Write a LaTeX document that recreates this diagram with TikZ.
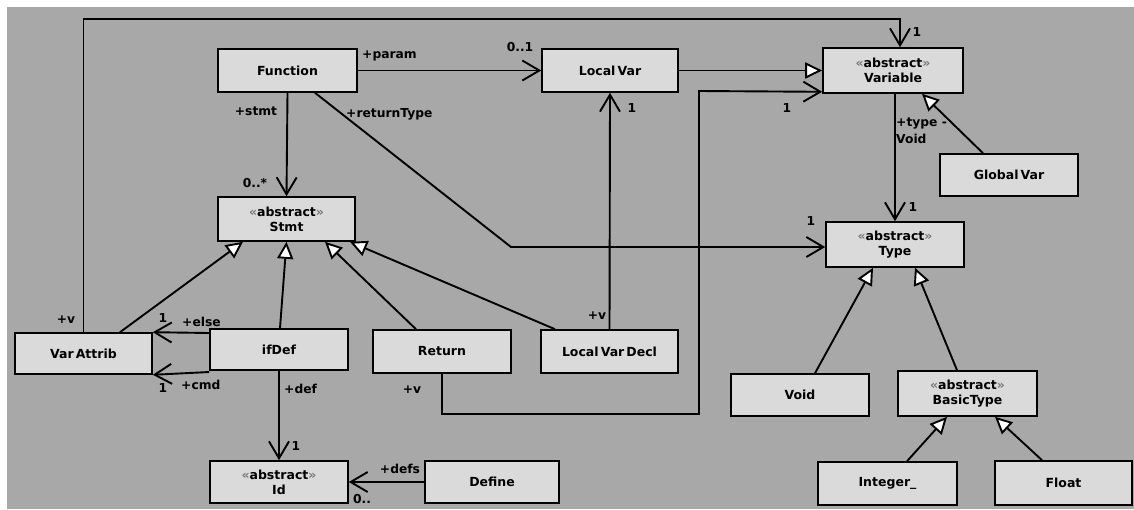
\documentclass[tikz,border=0pt]{standalone}
\usepackage{fontspec}
\setmainfont{DejaVu Sans}
\usetikzlibrary{arrows.meta,calc}
\definecolor{bgc}{RGB}{168,168,168}
\definecolor{boxc}{RGB}{218,218,218}
\definecolor{guil}{RGB}{120,120,120}
\newcommand{\stereo}{{\color{guil}«}abstract{\color{guil}»}}
\begin{document}
\begin{tikzpicture}[x=1pt,y=-1pt,
  cls/.style={draw=black, line width=1.6pt, fill=boxc, inner sep=0pt, align=center,
    font=\bfseries\fontsize{12.5}{15}\selectfont},
  lbl/.style={font=\bfseries\fontsize{12.3}{13}\selectfont, inner sep=0pt},
  assoc/.style={line width=1.9pt, -{Straight Barb[length=17pt,width=20pt]}},
  gen/.style={line width=1.9pt, -{Triangle[length=17pt,width=16pt,fill=white]}},
  plainln/.style={line width=1.9pt}]
\useasboundingbox (0,0) rectangle (1134,509);
\fill[bgc] (7,7) rectangle (1134,509);

% classes
\node[cls, minimum width=139, minimum height=43] (Function) at (287.5,70.5) {Function};
\node[cls, minimum width=136, minimum height=43] (LocalVar) at (610,70.5) {Local\,Var};
\node[cls, minimum width=140, minimum height=45] (Variable) at (893,70.5) {\stereo\\Variable};
\node[cls, minimum width=137, minimum height=44] (Stmt) at (286.5,219) {\stereo\\Stmt};
\node[cls, minimum width=138, minimum height=45] (Type) at (895,244.5) {\stereo\\Type};
\node[cls, minimum width=138, minimum height=42] (GlobalVar) at (1009,175) {Global\,Var};
\node[cls, minimum width=137, minimum height=41] (VarAttrib) at (83.5,353.5) {Var\,Attrib};
\node[cls, minimum width=138, minimum height=41] (ifDef) at (279,349.5) {ifDef};
\node[cls, minimum width=138, minimum height=43] (Return) at (442,351.5) {Return};
\node[cls, minimum width=137, minimum height=43] (LocalVarDecl) at (609.5,351.5) {Local\,Var\,Decl};
\node[cls, minimum width=138, minimum height=42] (Void) at (800,395) {Void};
\node[cls, minimum width=139, minimum height=45] (BasicType) at (967.5,393.5) {\stereo\\BasicType};
\node[cls, minimum width=139, minimum height=43] (Integer) at (887.5,483.5) {Integer\_};
\node[cls, minimum width=137, minimum height=44] (Float) at (1063.5,483) {Float};
\node[cls, minimum width=138, minimum height=42] (Id) at (279,482) {\stereo\\Id};
\node[cls, minimum width=134, minimum height=42] (Define) at (492,482) {Define};

% helper coordinates
\coordinate (tr) at (900,19);
\coordinate (rt) at (511,247);
\coordinate (rvA) at (699,414);
\coordinate (rvB) at (699,91);

% associations
\draw[assoc] (Function.east) -- (LocalVar.west);
\draw[assoc] (Function.south) -- (Stmt.north);
\draw[assoc] ([xshift=27.5pt]Function.south) -- (rt) -- ([yshift=-2.5pt]Type.west);
\draw[assoc] (VarAttrib.north) |- (tr) -- ([xshift=7pt]Variable.north);
\draw[assoc] (LocalVarDecl.north) -- (LocalVar.south);
\draw[assoc] (Return.south) |- (rvA) -- (rvB) -- ([yshift=2pt]Variable.south west);
\draw[assoc] ([xshift=2pt]Variable.south) -- (Type.north);
\draw[assoc] ([yshift=16.5pt]ifDef.west) -- (VarAttrib.north east);
\draw[assoc] ([yshift=-22.5pt]ifDef.west) -- (VarAttrib.south east);
\draw[assoc] (ifDef.south) -- (Id.north);
\draw[assoc] (Define.west) -- (Id.east);

% generalizations
\draw[gen] (LocalVar.east) -- (Variable.west);
\draw[gen] ([xshift=-26pt]GlobalVar.north) -- ([xshift=29pt]Variable.south);
\draw[gen] ([xshift=36.5pt]VarAttrib.north) -- ([xshift=-43.5pt]Stmt.south);
\draw[gen] ([xshift=1pt]ifDef.north) -- (Stmt.south);
\draw[gen] ([xshift=-26pt]Return.north) -- ([xshift=38.5pt]Stmt.south);
\draw[gen] ([xshift=-54.5pt]LocalVarDecl.north) -- ([xshift=63.5pt]Stmt.south);
\draw[gen] ([xshift=15pt]Void.north) -- ([xshift=-22pt]Type.south);
\draw[gen] ([xshift=-10.5pt]BasicType.north) -- ([xshift=20pt]Type.south);
\draw[gen] ([xshift=19.5pt]Integer.north) -- ([xshift=-20.5pt]BasicType.south);
\draw[gen] ([xshift=-21.5pt]Float.north) -- ([xshift=27.5pt]BasicType.south);

% role and multiplicity labels
\node[lbl, anchor=west] (l1) at (362,56) {+param};
\node[lbl] (l2) at (520,47) {0..1};
\node[lbl] (l3) at (256,111) {+stmt};
\node[lbl] (l4) at (255,183) {0..*};
\node[lbl, anchor=west] (l5) at (346,114) {+returnType};
\node[lbl] (l6) at (811,221) {1};
\node[lbl] (l7) at (917,32) {1};
\node[lbl] (l8) at (66,320) {+v};
\node[lbl] (l9) at (597,316) {+v};
\node[lbl] (l10) at (632,108) {1};
\node[lbl] (l11) at (412,390) {+v};
\node[lbl] (l12) at (787,108) {1};
\node[lbl, anchor=west] (l13) at (896,124) {+type -};
\node[lbl, anchor=west] (l14) at (896,139) {Void};
\node[lbl] (l15) at (913,207) {1};
\node[lbl] (l16) at (163,318) {1};
\node[lbl, anchor=west] (l17) at (182,322) {+else};
\node[lbl] (l18) at (163,388) {1};
\node[lbl, anchor=west] (l19) at (181,385) {+cmd};
\node[lbl, anchor=west] (l20) at (284,389) {+def};
\node[lbl] (l21) at (296,446) {1};
\node[lbl] (l22) at (400,469) {+defs};
\node[lbl] (l23) at (362,499) {0..};
\end{tikzpicture}
\end{document}
